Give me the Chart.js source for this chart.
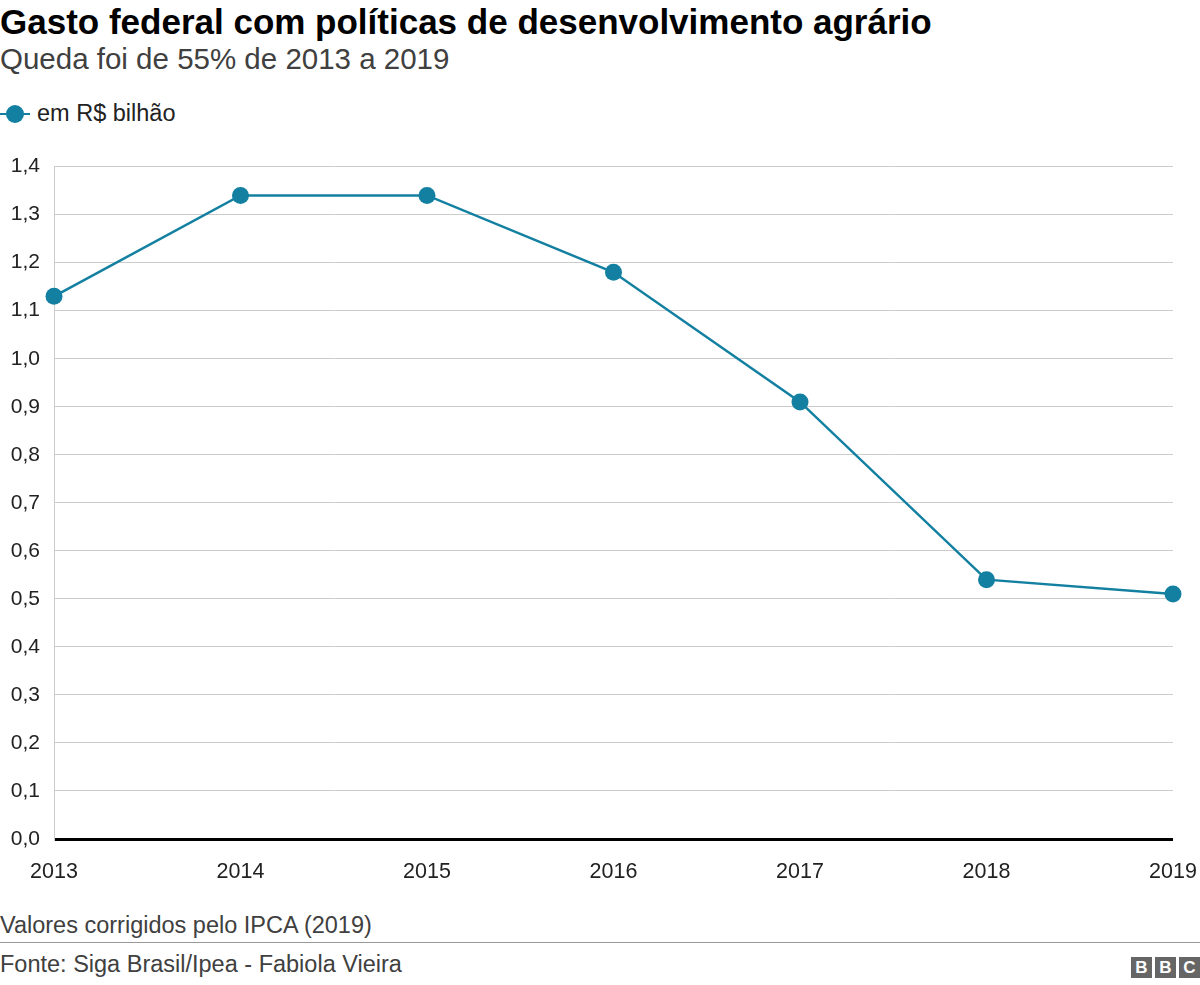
<!DOCTYPE html>
<html>
<head>
<meta charset="utf-8">
<script src="https://cdn.jsdelivr.net/npm/chart.js@4"></script>
<style>
  body { margin: 0; width: 1200px; height: 985px; background: #fff; font-family: "Liberation Sans", Arial, sans-serif; position: relative; overflow: hidden; }
  .title { position: absolute; left: 0; top: 2px; font-size: 35px; font-weight: bold; color: #000; white-space: nowrap; }
  .subtitle { position: absolute; left: 0; top: 42px; font-size: 29.5px; color: #404040; white-space: nowrap; }
  .legend { position: absolute; left: 0; top: 100px; font-size: 23.5px; color: #222; display: flex; align-items: center; }
  .legend .mark { position: relative; width: 30px; height: 20px; margin-right: 7px; }
  .legend .mark .ln { position: absolute; left: 0; top: 9px; width: 30px; height: 2px; background: #1380a1; }
  .legend .mark .dot { position: absolute; left: 6px; top: 1px; width: 18px; height: 18px; border-radius: 50%; background: #1380a1; }
  #wrap { position: absolute; left: 0; top: 140px; width: 1200px; height: 750px; }
  .note { position: absolute; left: 0; top: 912px; font-size: 23.5px; color: #404040; white-space: nowrap; }
  .rule { position: absolute; left: 0; top: 942px; width: 1200px; height: 1px; background: #999; }
  .source { position: absolute; left: 0; top: 951px; font-size: 23.5px; color: #404040; white-space: nowrap; }
  .bbc { position: absolute; right: 0; top: 957px; display: flex; gap: 3px; }
  .bbc span { width: 21px; height: 21px; background: #666; color: #fff; font-weight: bold; font-size: 17px; line-height: 21px; text-align: center; }
</style>
</head>
<body>
<div class="title">Gasto federal com políticas de desenvolvimento agrário</div>
<div class="subtitle">Queda foi de 55% de 2013 a 2019</div>
<div class="legend"><div class="mark"><div class="ln"></div><div class="dot"></div></div>em R$ bilhão</div>
<div id="wrap"><canvas id="chart" width="1200" height="750"></canvas></div>
<div class="note">Valores corrigidos pelo IPCA (2019)</div>
<div class="rule"></div>
<div class="source">Fonte: Siga Brasil/Ipea - Fabiola Vieira</div>
<div class="bbc"><span>B</span><span>B</span><span>C</span></div>

<script>
// Data
const years = ['2013', '2014', '2015', '2016', '2017', '2018', '2019'];
const spending = [1.13, 1.34, 1.34, 1.18, 0.91, 0.54, 0.51];
const seriesLabel = 'em R$ bilhão';
const yMin = 0;
const yMax = 1.4;
const yStep = 0.1;

const teal = '#1380a1';
const tickFont = '"Liberation Sans", Arial, sans-serif';

const ctx = document.getElementById('chart').getContext('2d');
new Chart(ctx, {
  type: 'line',
  data: {
    labels: years,
    datasets: [{
      label: seriesLabel,
      data: spending,
      borderColor: teal,
      backgroundColor: teal,
      borderWidth: 2.5,
      pointRadius: 8.5,
      pointHoverRadius: 8.5,
      pointBackgroundColor: teal,
      pointBorderWidth: 0,
      tension: 0,
      clip: false
    }]
  },
  options: {
    responsive: false,
    animation: false,
    layout: { padding: { top: 22, right: 0, bottom: 11, left: 0 } },
    plugins: {
      legend: { display: false },
      tooltip: { enabled: false }
    },
    scales: {
      x: {
        offset: false,
        grid: { display: false },
        border: { display: false },
        ticks: {
          color: '#222',
          font: { family: tickFont, size: 21.5 },
          padding: 12,
          maxRotation: 0
        },
        afterFit: function(scale) {
          scale.height = 40;
          scale.paddingLeft = 0;
          scale.paddingRight = 27;
        }
      },
      y: {
        min: yMin,
        max: yMax,
        grid: {
          drawTicks: false,
          color: function(c) { return c.tick && c.tick.value === 0 ? '#000' : '#cccccc'; },
          lineWidth: function(c) { return c.tick && c.tick.value === 0 ? 3 : 1; }
        },
        border: { display: true, color: '#cccccc', width: 1 },
        ticks: {
          stepSize: yStep,
          color: '#222',
          padding: 14,
          font: { family: tickFont, size: 21 },
          callback: function(v) { return Number(v).toFixed(1).replace('.', ','); }
        },
        afterFit: function(scale) { scale.width = 54; }
      }
    }
  }
});
</script>
</body>
</html>
